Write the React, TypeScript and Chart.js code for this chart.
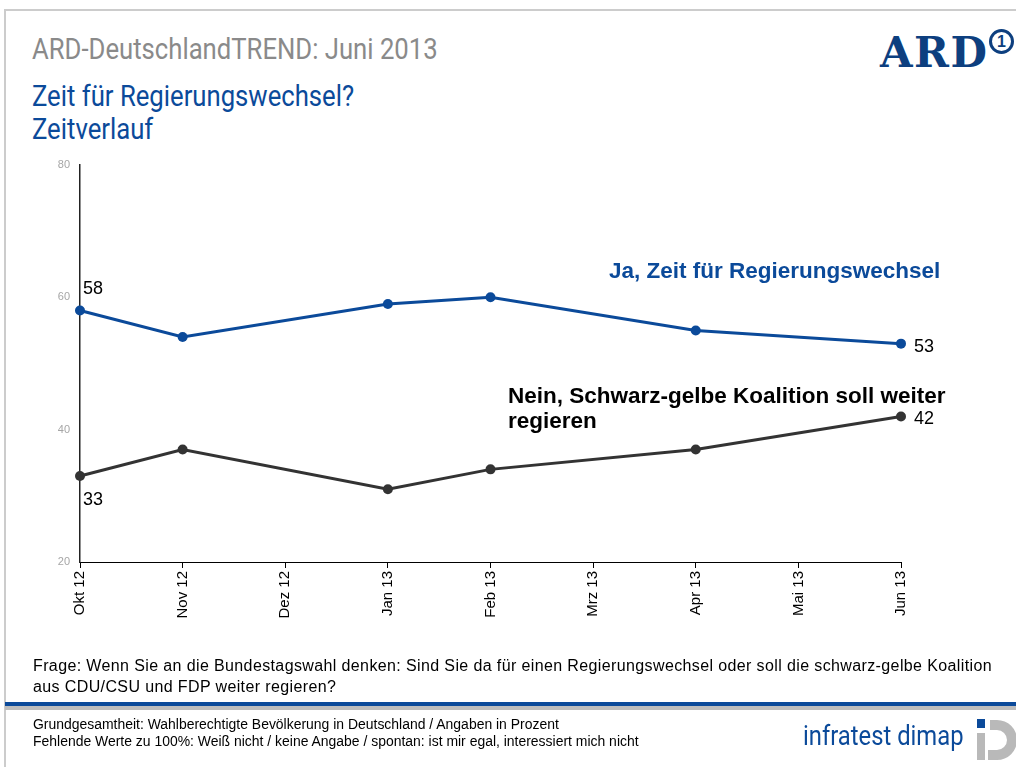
import React, { useEffect, useRef } from "react";
import { Chart, registerables } from "chart.js";

Chart.register(...registerables);

const categories = ["Okt 12", "Nov 12", "Dez 12", "Jan 13", "Feb 13", "Mrz 13", "Apr 13", "Mai 13", "Jun 13"];
const jaValues: (number | null)[] = [58, 54, null, 59, 60, null, 55, null, 53];
const neinValues: (number | null)[] = [33, 37, null, 31, 34, null, 37, null, 42];
const yTicks = [20, 40, 60, 80];

const BLUE = "#0b4a9a";
const DARK = "#333333";

const valueLabelPlugin = {
  id: "valueLabels",
  afterDatasetsDraw(chart: any) {
    const ctx = chart.ctx;
    ctx.save();
    ctx.font = "18px 'Liberation Sans', Arial, sans-serif";
    ctx.fillStyle = "#000";
    ctx.textBaseline = "alphabetic";
    ctx.textAlign = "left";
    const last = categories.length - 1;
    const ja = chart.getDatasetMeta(0).data;
    const nein = chart.getDatasetMeta(1).data;
    ctx.fillText(String(jaValues[0]), ja[0].x + 3, ja[0].y - 17);
    ctx.fillText(String(neinValues[0]), nein[0].x + 3, nein[0].y + 29);
    ctx.fillText(String(jaValues[last]), ja[last].x + 13, ja[last].y + 8);
    ctx.fillText(String(neinValues[last]), nein[last].x + 13, nein[last].y + 8);
    ctx.restore();
  },
};

export default function App() {
  const ref = useRef<HTMLCanvasElement>(null);

  useEffect(() => {
    if (!ref.current) return;
    const chart = new Chart(ref.current, {
      type: "line",
      data: {
        labels: categories,
        datasets: [
          {
            label: "Ja, Zeit für Regierungswechsel",
            data: jaValues,
            borderColor: BLUE,
            backgroundColor: BLUE,
            borderWidth: 3,
            pointRadius: 5,
            pointBackgroundColor: BLUE,
            pointBorderWidth: 0,
            spanGaps: true,
            tension: 0,
          },
          {
            label: "Nein, Schwarz-gelbe Koalition soll weiter regieren",
            data: neinValues,
            borderColor: DARK,
            backgroundColor: DARK,
            borderWidth: 3,
            pointRadius: 5,
            pointBackgroundColor: DARK,
            pointBorderWidth: 0,
            spanGaps: true,
            tension: 0,
          },
        ],
      },
      options: {
        responsive: false,
        animation: false,
        layout: { padding: { left: 40, right: 115, top: 165, bottom: 135 } },
        plugins: { legend: { display: false }, tooltip: { enabled: false } },
        scales: {
          x: {
            offset: false,
            grid: {
              display: true,
              drawOnChartArea: false,
              drawTicks: true,
              tickLength: 6,
              color: "#000",
            },
            border: { display: true, color: "#000", width: 1 },
            ticks: {
              minRotation: 90,
              maxRotation: 90,
              autoSkip: false,
              padding: 3,
              color: "#000",
              font: { family: "'Liberation Sans', Arial, sans-serif", size: 15 },
            },
            afterFit: (scale: any) => {
              scale.height = 70;
            },
          },
          y: {
            min: 20,
            max: 80,
            afterBuildTicks: (scale: any) => {
              scale.ticks = yTicks.map((v) => ({ value: v }));
            },
            grid: { display: true, drawOnChartArea: false, drawTicks: false },
            border: { display: true, color: "#222", width: 1.5 },
            ticks: {
              padding: 10,
              color: "#a6a6a6",
              font: { family: "'Liberation Sans', Arial, sans-serif", size: 11 },
            },
            afterFit: (scale: any) => {
              scale.width = 40;
            },
          },
        },
      },
      plugins: [valueLabelPlugin],
    });
    return () => chart.destroy();
  }, []);

  const abs = (s: React.CSSProperties): React.CSSProperties => ({ position: "absolute", margin: 0, whiteSpace: "nowrap", ...s });
  const cond = "'Roboto', sans-serif";
  const arial = "'Liberation Sans', Arial, sans-serif";
  const squeeze: React.CSSProperties = { transform: "scaleX(0.856)", transformOrigin: "0 0" };

  return (
    <div style={{ position: "absolute", left: 0, top: 0, width: 1016, height: 767, background: "#fff", overflow: "hidden" }}>
      {/* frame */}
      <div style={abs({ left: 5, top: 9, width: 1011, height: 2, background: "#cccccc" })} />
      <div style={abs({ left: 4, top: 9, width: 2, height: 758, background: "#cccccc" })} />

      {/* header */}
      <div style={abs({ left: 32, top: 31, fontFamily: cond, fontSize: 30, color: "#8a8a8a", lineHeight: "36px", ...squeeze })}>
        ARD-DeutschlandTREND: Juni 2013
      </div>
      <div style={abs({ left: 32, top: 79, fontFamily: cond, fontSize: 30, color: BLUE, lineHeight: "34px", ...squeeze })}>
        Zeit für Regierungswechsel?
      </div>
      <div style={abs({ left: 32, top: 112, fontFamily: cond, fontSize: 30, color: BLUE, lineHeight: "34px", ...squeeze })}>
        Zeitverlauf
      </div>

      {/* ARD logo */}
      <div style={abs({ left: 880, top: 28, fontFamily: "'DejaVu Serif', serif", fontWeight: 700, fontSize: 42, color: "#0d3f7f", lineHeight: "50px", letterSpacing: 1.5 })}>
        ARD
      </div>
      <div
        style={abs({
          left: 989,
          top: 29,
          width: 19,
          height: 19,
          border: "3px solid #0d3f7f",
          borderRadius: "50%",
          color: "#0d3f7f",
          fontFamily: arial,
          fontWeight: 700,
          fontSize: 16,
          lineHeight: "19px",
          textAlign: "center",
        })}
      >
        1
      </div>

      <canvas ref={ref} width={1016} height={767} style={{ position: "absolute", left: 0, top: 0, width: 1016, height: 767 }} />

      {/* series labels */}
      <div style={abs({ left: 609, top: 258, fontFamily: arial, fontWeight: 700, fontSize: 22.5, color: BLUE, lineHeight: "26px" })}>
        Ja, Zeit für Regierungswechsel
      </div>
      <div style={abs({ left: 508, top: 383, fontFamily: arial, fontWeight: 700, fontSize: 22.5, color: "#000", lineHeight: "25px" })}>
        Nein, Schwarz-gelbe Koalition soll weiter
        <br />
        regieren
      </div>

      {/* question */}
      <div style={abs({ left: 33, top: 655, fontFamily: arial, fontSize: 16, letterSpacing: 0.38, color: "#000", lineHeight: "21px" })}>
        Frage: Wenn Sie an die Bundestagswahl denken: Sind Sie da für einen Regierungswechsel oder soll die schwarz-gelbe Koalition
        <br />
        aus CDU/CSU und FDP weiter regieren?
      </div>

      {/* footer lines */}
      <div style={abs({ left: 5, top: 702, width: 1011, height: 4, background: BLUE })} />
      <div style={abs({ left: 5, top: 706, width: 1011, height: 4, background: "#bdbdbd" })} />

      <div style={abs({ left: 33, top: 716, fontFamily: arial, fontSize: 14, color: "#000", lineHeight: "17px", transform: "scaleX(0.996)", transformOrigin: "0 0" })}>
        Grundgesamtheit: Wahlberechtigte Bevölkerung in Deutschland / Angaben in Prozent
        <br />
        Fehlende Werte zu 100%: Weiß nicht / keine Angabe / spontan: ist mir egal, interessiert mich nicht
      </div>

      {/* infratest dimap logo */}
      <div style={abs({ left: 803, top: 719, fontFamily: cond, fontSize: 28, color: BLUE, lineHeight: "34px", transform: "scaleX(0.85)", transformOrigin: "0 0" })}>
        infratest dimap
      </div>
      <svg style={{ position: "absolute", left: 970, top: 712 }} width={46} height={55}>
        <rect x={7} y={7} width={8} height={9} fill={BLUE} />
        <path
          d="M 20 8 L 27 8 A 20 20 0 0 1 27 48 L 18 48 L 18 38 L 27 38 A 10 10 0 0 0 27 18 L 20 18 Z"
          fill="#b9b9b9"
        />
        <rect x={7} y={21} width={8} height={27} fill="#b9b9b9" />
      </svg>
    </div>
  );
}
